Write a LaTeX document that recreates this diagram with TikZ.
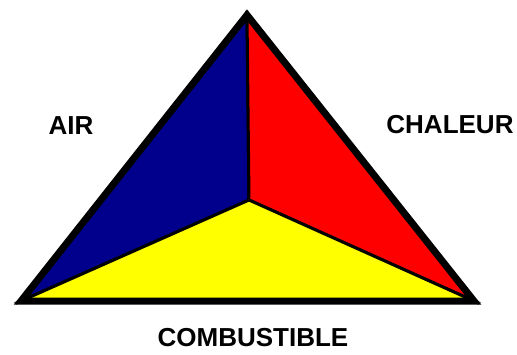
\documentclass[tikz,border=0pt]{standalone}
\usepackage{fontspec}
\setmainfont{Liberation Sans}
\usepackage{xcolor}
\definecolor{airblue}{RGB}{0,0,140}
\definecolor{heatred}{RGB}{255,0,0}
\definecolor{fuelyellow}{RGB}{255,255,0}

\begin{document}
\begin{tikzpicture}[
    x=1pt, y=-1pt,
    face/.style={draw=black, line width=3pt, line join=miter},
    rim/.style={draw=black, line width=7pt, line join=miter},
    label/.style={font=\fontsize{26}{30}\selectfont\bfseries, text=black, inner sep=0pt}
]
    \useasboundingbox (0,0) rectangle (517,354);

    % Corners of the triangle
    \coordinate (apex) at (247,15);
    \coordinate (lcorner) at (21,301);
    \coordinate (rcorner) at (474,301);
    \coordinate (centre) at (249,200);

    % Three faces
    \path [face, fill=airblue] (apex) -- (centre) -- (lcorner) -- cycle;
    \path [face, fill=heatred] (apex) -- (rcorner) -- (centre) -- cycle;
    \path [face, fill=fuelyellow] (lcorner) -- (centre) -- (rcorner) -- cycle;

    % Outline
    \path [rim] (apex) -- (lcorner) -- (rcorner) -- cycle;

    % Labels
    \node [label] (air) at (71,126) {AIR};
    \node [label] (heat) at (450,125) {CHALEUR};
    \node [label] (fuel) at (253,338) {COMBUSTIBLE};

\end{tikzpicture}
\end{document}
